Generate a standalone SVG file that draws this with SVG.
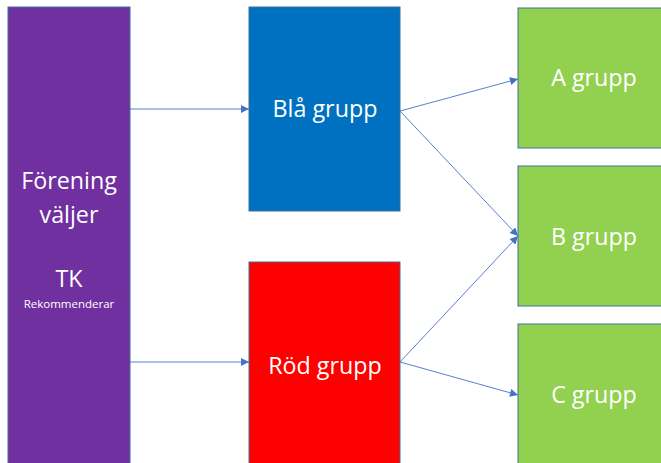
<svg xmlns="http://www.w3.org/2000/svg" width="661" height="463" viewBox="0 0 661 463">
<defs>
<style>
.box{stroke:#41719C;stroke-width:1}
.t{font-family:"Open Sans","Liberation Sans",sans-serif;fill:#ffffff;text-anchor:middle;font-size:23.3px}
.conn line{stroke:#4472C4;stroke-width:0.9;fill:none}
</style>
<marker id="arr" viewBox="0 0 10 10" refX="10" refY="5" markerUnits="userSpaceOnUse" markerWidth="9" markerHeight="8" orient="auto">
<path d="M0,0 L10,5 L0,10 z" fill="#4472C4"/>
</marker>
</defs>
<rect width="661" height="463" fill="#ffffff"/>
<g id="forening">
<rect class="box" x="8" y="7" width="122" height="470" fill="#7030A0"/>
<text class="t" x="69" y="189">Förening</text>
<text class="t" x="69" y="223">väljer</text>
<text class="t" x="69" y="287">TK</text>
<text class="t" x="69" y="308" style="font-size:11.5px">Rekommenderar</text>
</g>
<g id="bla">
<rect class="box" x="249" y="7" width="151" height="204" fill="#0070C0"/>
<text class="t" x="325" y="117">Blå grupp</text>
</g>
<g id="rod">
<rect class="box" x="249" y="262" width="151" height="215" fill="#FF0000"/>
<text class="t" x="325" y="374">Röd grupp</text>
</g>
<g id="a">
<rect class="box" x="518" y="8" width="152" height="140" fill="#92D050"/>
<text class="t" x="594" y="86">A grupp</text>
</g>
<g id="b">
<rect class="box" x="518" y="166" width="152" height="140" fill="#92D050"/>
<text class="t" x="594" y="245">B grupp</text>
</g>
<g id="c">
<rect class="box" x="518" y="324" width="152" height="150" fill="#92D050"/>
<text class="t" x="594" y="403">C grupp</text>
</g>
<g id="connectors" class="conn">
<line x1="130" y1="109" x2="249" y2="109" marker-end="url(#arr)"/>
<line x1="130" y1="362" x2="249" y2="362" marker-end="url(#arr)"/>
<line x1="400" y1="111" x2="518" y2="79" marker-end="url(#arr)"/>
<line x1="400" y1="111" x2="518" y2="236" marker-end="url(#arr)"/>
<line x1="400" y1="362" x2="518" y2="236" marker-end="url(#arr)"/>
<line x1="400" y1="362" x2="518" y2="395" marker-end="url(#arr)"/>
</g>
</svg>
